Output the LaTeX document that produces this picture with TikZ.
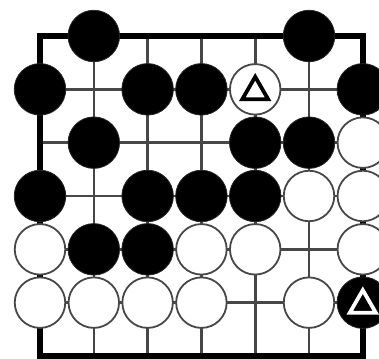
\documentclass[tikz,border=0pt]{standalone}
\usetikzlibrary{shapes.geometric}
\begin{document}
\begin{tikzpicture}[x=1pt,y=-1pt,
  gridline/.style={line width=2.6pt,draw=black!72},
  frame/.style={line width=5.5pt,draw=black,line join=miter},
  bstone/.style={circle,fill=black,draw=black!85,line width=0.8pt,minimum size=51.5pt,inner sep=0pt},
  wstone/.style={circle,fill=white,draw=black!72,line width=1.8pt,minimum size=50.5pt,inner sep=0pt},
  btri/.style={regular polygon,regular polygon sides=3,draw=black,line width=3.8pt,minimum size=30pt,inner sep=0pt},
  wtri/.style={regular polygon,regular polygon sides=3,draw=white,line width=3.8pt,minimum size=30pt,inner sep=0pt}]
\useasboundingbox (0,0) rectangle (379,358);
\begin{scope}
\clip (0,0) rectangle (379,358);
% grid lines
\foreach \i in {1,...,5} {
  \draw[gridline] (40+53.8*\i,36) -- (40+53.8*\i,356);
  \draw[gridline] (40,36+53.33*\i) -- (362.8,36+53.33*\i);
}
\draw[frame] (40,36) rectangle (362.8,356);
% stones: \c = column (1..7), \r = row (1..7)
\foreach \c/\r in {2/1,6/1, 1/2,3/2,4/2,7/2, 2/3,5/3,6/3, 1/4,3/4,4/4,5/4, 2/5,3/5, 7/6} {
  \node[bstone] (b-\c-\r) at (40+53.8*\c-53.8,36+53.33*\r-53.33) {};
}
\foreach \c/\r in {5/2, 7/3, 6/4,7/4, 1/5,4/5,5/5,7/5, 1/6,2/6,3/6,4/6,6/6} {
  \node[wstone] (w-\c-\r) at (40+53.8*\c-53.8,36+53.33*\r-53.33) {};
}
\node[btri] (m1) at ([yshift=-2.5pt]w-5-2.center) {};
\node[wtri] (m2) at ([yshift=-2.5pt]b-7-6.center) {};
\end{scope}
\end{tikzpicture}
\end{document}
